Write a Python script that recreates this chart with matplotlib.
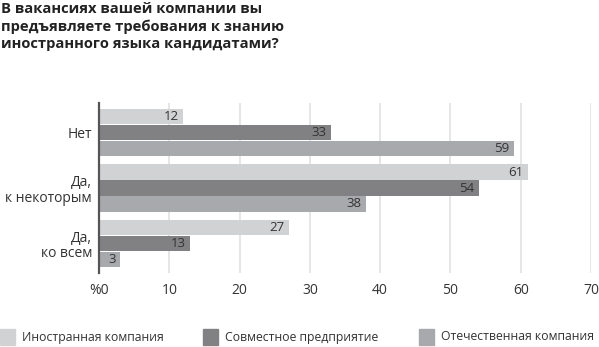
import matplotlib
matplotlib.use('Agg')
import matplotlib.pyplot as plt
import numpy as np

plt.rcParams['font.family'] = ['Open Sans', 'DejaVu Sans']

# Survey answers, one group per answer, one bar per company type
categories = ['Нет', 'Да,\nк некоторым', 'Да,\nко всем']
series_names = ['Иностранная компания', 'Совместное предприятие', 'Отечественная компания']
foreign = [12, 61, 27]
joint = [33, 54, 13]
domestic = [59, 38, 3]
x_ticks = [0, 10, 20, 30, 40, 50, 60, 70]
x_tick_labels = ['%0', '10', '20', '30', '40', '50', '60', '70']

colors = ['#d1d2d4', '#818184', '#a8a9ac']
title = 'В вакансиях вашей компании вы\nпредъявляете требования к знанию\nиностранного языка кандидатами?'

fig = plt.figure(figsize=(5.99, 3.47), dpi=100)
ax = fig.add_axes([99 / 599, 74 / 347, 492 / 599, 170 / 347])

y = np.arange(len(categories))
step = 0.286
height = 0.27
for i, (vals, name, col) in enumerate(zip([foreign, joint, domestic], series_names, colors)):
    pos = y + (i - 1) * step
    ax.barh(pos, vals, height=height, color=col, label=name, zorder=2)
    for p, v in zip(pos, vals):
        ax.text(v - 0.6, p, str(v), ha='right', va='center', fontsize=9.5,
                color='#333333', zorder=3)

ax.set_xlim(0, 70)
ax.set_ylim(2.52, -0.52)
ax.set_xticks(x_ticks)
ax.set_xticklabels(x_tick_labels, fontsize=10, color='#333333')
ax.set_yticks(y)
ax.set_yticklabels(categories, fontsize=10, color='#333333', ha='right',
                   linespacing=1.05)
ax.tick_params(axis='both', length=0, pad=5)
ax.tick_params(axis='x', pad=7)

ax.grid(axis='x', color='#e2e2e2', linewidth=1.2, zorder=0)
for s in ['top', 'right', 'bottom']:
    ax.spines[s].set_visible(False)
ax.spines['left'].set_color('#555555')
ax.spines['left'].set_linewidth(1.6)
ax.spines['left'].set_zorder(4)

fig.text(0.002, 0.995, title, ha='left', va='top', fontsize=10.6,
         fontweight='bold', color='#222222', linespacing=1.3)

# Legend squares with names underneath the plot
legend_x = [0, 203, 419]
for lx, name, col in zip(legend_x, series_names, colors):
    fig.patches.append(plt.Rectangle((lx / 599, 2 / 347), 15 / 599, 16 / 347,
                                     transform=fig.transFigure, color=col))
    fig.text((lx + 22) / 599, 10 / 347, name, ha='left', va='center',
             fontsize=8.8, color='#333333')

fig.savefig('out.png', dpi=100)
